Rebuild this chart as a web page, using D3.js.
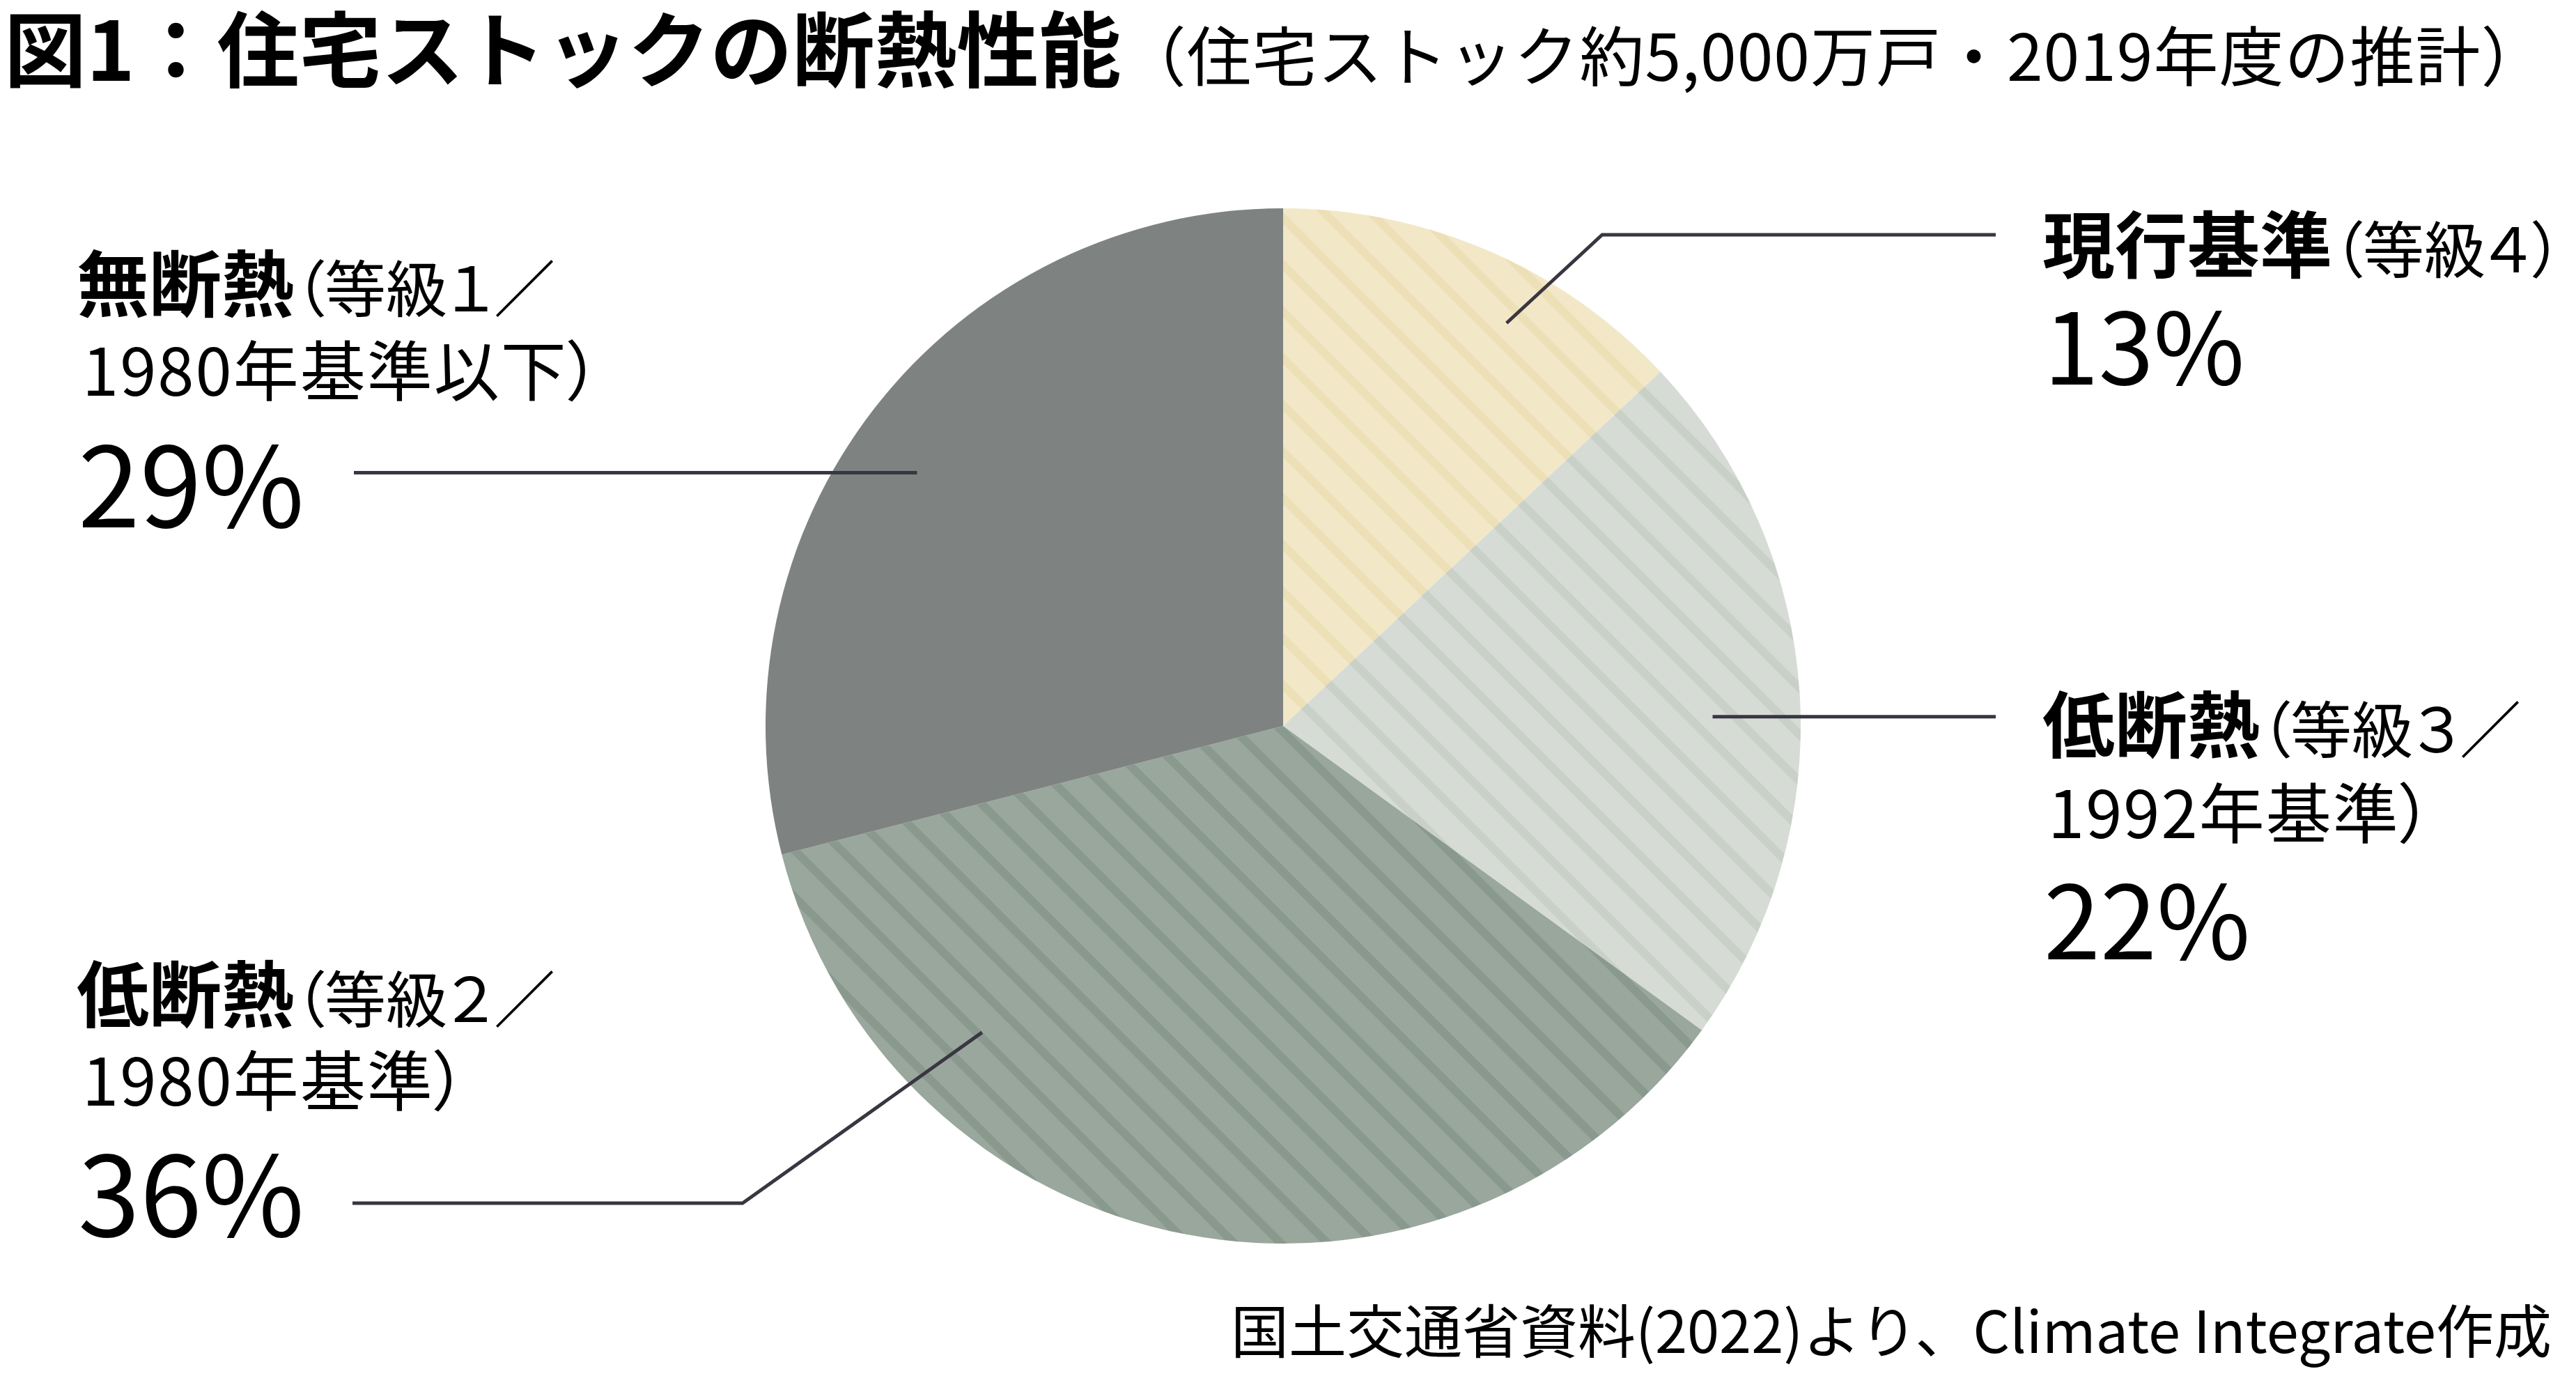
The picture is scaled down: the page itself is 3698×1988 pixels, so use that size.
<!DOCTYPE html>
<html lang="ja">
<head>
<meta charset="utf-8">
<script src="https://cdn.jsdelivr.net/npm/d3@7"></script>
<style>
  html, body { margin: 0; padding: 0; background: #ffffff; }
  svg { display: block; }
  text { font-family: "Noto Sans CJK JP", "Noto Sans", sans-serif; fill: #000; }
  .palt { font-feature-settings: "palt"; }
</style>
</head>
<body>
<svg id="chart" width="3698" height="1988"></svg>
<script>
// ---- data ----
const categories = ["現行基準", "低断熱", "低断熱", "無断熱"];
const grades = ["（等級４）", "（等級３／", "（等級２／", "（等級１／"];
const secondLines = ["", "1992年基準）", "1980年基準）", "1980年基準以下）"];
const values = [13, 22, 36, 29];
const baseColors = ["#f2e8c8", "#d6dcd5", "#99a79d", "#7e8381"];
const stripeColors = ["#eddfb6", "#c8d0c7", "#8a998e", null];
const titleText = "図1：住宅ストックの断熱性能";
const subtitleText = "（住宅ストック約5,000万戸・2019年度の推計）";
const sourceText = "国土交通省資料(2022)より、Climate Integrate作成";

// ---- layout ----
const W = 3698, H = 1988;
const cx = 1842, cy = 1042, R = 743;
const svg = d3.select("#chart");

// stripe patterns
const defs = svg.append("defs");
baseColors.forEach((c, i) => {
  if (!stripeColors[i]) return;
  const p = defs.append("pattern")
    .attr("id", "stripe" + i)
    .attr("patternUnits", "userSpaceOnUse")
    .attr("width", 47.4).attr("height", 47.4)
    .attr("patternTransform", "rotate(45)");
  p.append("rect").attr("width", 47.4).attr("height", 47.4).attr("fill", c);
  p.append("rect").attr("y", 0).attr("width", 47.4).attr("height", 12).attr("fill", stripeColors[i]);
});

const pie = d3.pie().sort(null).value(d => d)(values);
const arc = d3.arc().innerRadius(0).outerRadius(R);
const g = svg.append("g").attr("transform", `translate(${cx},${cy})`);
g.selectAll("path").data(pie).join("path")
  .attr("d", arc)
  .attr("fill", (d, i) => stripeColors[i] ? `url(#stripe${i})` : baseColors[i]);

// leader lines: anchor inside slice (fraction of slice angle, radius fraction), then to label
const leaderInner = [
  { t: 0.62, r: 0.89 },
  { t: 0.53, r: 0.83 },
  { t: 0.76, r: 0.83 },
  { t: 0.47, r: 0.86 }
];
const leaderPaths = [
  [[2300, 337], [2865, 337]],
  [[2865, null]],
  [[1066, 1727], [506, 1727]],
  [[508, null]]
];
const lineGen = d3.line();
pie.forEach((d, i) => {
  const a = d.startAngle + (d.endAngle - d.startAngle) * leaderInner[i].t;
  const rr = R * leaderInner[i].r;
  const p0 = [cx + rr * Math.sin(a), cy - rr * Math.cos(a)];
  const pts = [p0].concat(leaderPaths[i].map(p => [p[0], p[1] == null ? p0[1] : p[1]]));
  svg.append("path").attr("d", lineGen(pts))
    .attr("fill", "none").attr("stroke", "#3a3641").attr("stroke-width", 5)
    .attr("stroke-linejoin", "miter");
});

// labels (one text element per label, lines as tspans)
const labelPos = [
  { x: 2932, y1: 391, y2: null, y3: 552, pct: 142 },
  { x: 2932, y1: 1080, y2: 1203, y3: 1377, pct: 146 },
  { x: 110, y1: 1467, y2: 1587, y3: 1775, pct: 160 },
  { x: 110, y1: 447, y2: 568, y3: 757, pct: 160 }
];
pie.forEach((d, i) => {
  const L = labelPos[i];
  const t = svg.append("text").attr("class", "palt");
  t.append("tspan").attr("x", L.x).attr("y", L.y1)
    .attr("font-weight", 700).attr("font-size", 104).text(categories[i]);
  t.append("tspan").attr("font-weight", 400).attr("font-size", 88).text(grades[i]);
  if (secondLines[i]) {
    t.append("tspan").attr("x", L.x + 8).attr("y", L.y2)
      .attr("font-size", 94).attr("letter-spacing", 2).attr("font-weight", 400).text(secondLines[i]);
  }
  t.append("tspan").attr("x", L.x + 2).attr("y", L.y3)
    .attr("font-size", L.pct).attr("font-weight", 400).attr("letter-spacing", 0)
    .style("font-feature-settings", "normal")
    .text(d3.format("d")(values[i]) + "%");
});

// title
const tt = svg.append("text").attr("x", 6).attr("y", 116);
tt.append("tspan").attr("font-weight", 700).attr("font-size", 118).text(titleText);
tt.append("tspan").attr("font-weight", 400).attr("font-size", 93).attr("letter-spacing", 1).text(subtitleText);

// source
svg.append("text").attr("x", 3663).attr("y", 1942)
  .attr("text-anchor", "end").attr("font-size", 83).text(sourceText);
</script>
</body>
</html>
